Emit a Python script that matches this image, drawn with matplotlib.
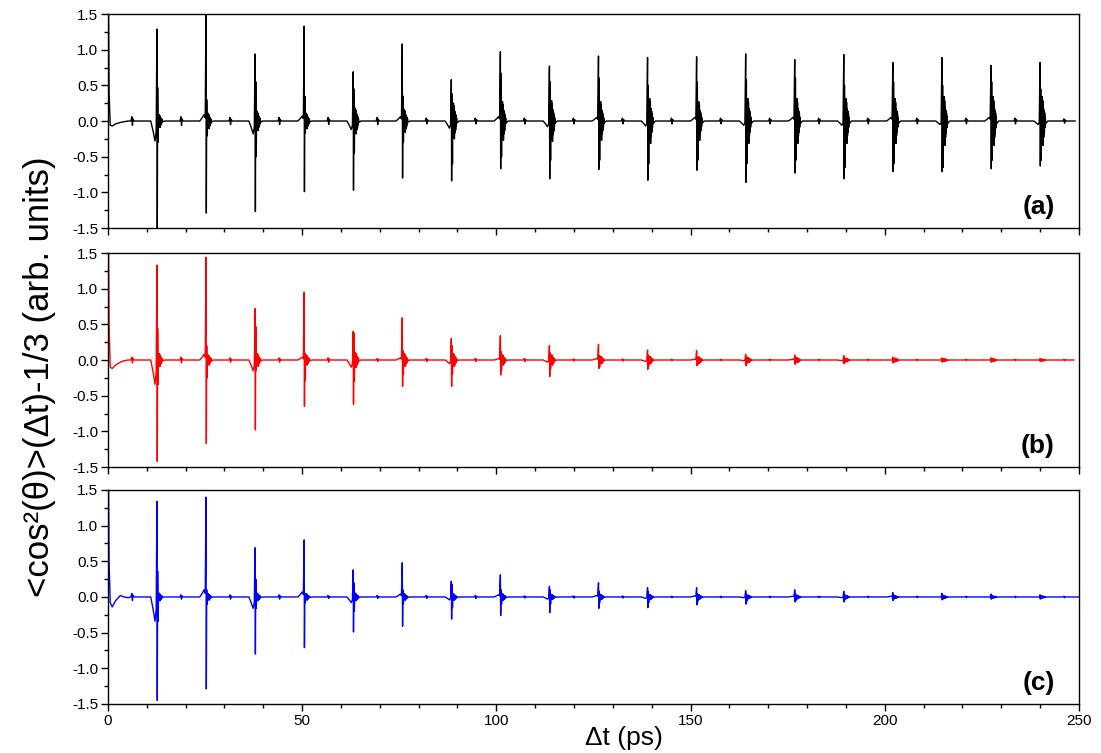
import numpy as np
import matplotlib.pyplot as plt
from matplotlib.ticker import MultipleLocator, FormatStrFormatter

plt.rcParams['font.family'] = ['Liberation Sans', 'DejaVu Sans']
plt.rcParams['axes.unicode_minus'] = False

T_REV = 12.63          # revival spacing (ps)
N_REV = 19

# start of trace (t = 0 .. 5 ps)
t_start = [0.15, 0.3, 0.6, 1.1, 2.0, 3.2, 4.2, 5.2]
a_start = [1.7, 0.4, -0.06, -0.07, -0.04, -0.02, -0.01, 0.0]
b_start = [1.7, 0.5, -0.10, -0.12, -0.07, -0.03, -0.01, 0.0]
c_start = [1.7, 0.5, -0.08, -0.14, -0.05, 0.02, 0.0, -0.01]

# revival features, one value per revival n = 1..19
a_max = [1.29, 1.60, 0.94, 1.33, 0.69, 1.08, 0.58, 0.97, 0.77, 0.91,
         0.89, 0.90, 0.94, 0.86, 0.93, 0.82, 0.89, 0.78, 0.82]
a_min = [-1.60, -1.29, -1.27, -0.99, -0.97, -0.80, -0.84, -0.67, -0.81, -0.68,
         -0.83, -0.69, -0.86, -0.73, -0.81, -0.71, -0.71, -0.67, -0.63]
a_sec = [0.47, 0.30, 0.55, 0.35, 0.45, 0.35, 0.38, 0.67, 0.55, 0.60,
         0.50, 0.55, 0.58, 0.60, 0.50, 0.55, 0.50, 0.55, 0.45]
a_smin = [-0.30, -0.21, -0.50, -0.17, -0.45, -0.30, -0.60, -0.50, -0.55, -0.55,
          -0.60, -0.55, -0.60, -0.55, -0.65, -0.60, -0.65, -0.55, -0.55]
a_pre = [-0.28, 0.09, -0.18, 0.07, -0.12, 0.06, -0.10, 0.06, -0.08, 0.05,
         -0.07, 0.05, -0.06, 0.05, -0.06, 0.05, -0.05, 0.05, -0.05]
a_ring = [0.10, 0.12, 0.15, 0.12, 0.20, 0.18, 0.28, 0.30, 0.32, 0.30,
          0.35, 0.30, 0.35, 0.35, 0.35, 0.35, 0.38, 0.38, 0.38]
a_half = [0.06, 0.06, 0.05, 0.05, 0.05, 0.05, 0.04, 0.04, 0.04, 0.04,
          0.04, 0.04, 0.04, 0.04, 0.04, 0.04, 0.04, 0.04, 0.04, 0.03]

b_max = [1.33, 1.44, 0.72, 0.95, 0.40, 0.59, 0.30, 0.34, 0.20, 0.22,
         0.14, 0.13, 0.08, 0.07, 0.06, 0.04, 0.03, 0.03, 0.02]
b_min = [-1.42, -1.17, -0.98, -0.65, -0.62, -0.37, -0.37, -0.21, -0.23, -0.12,
         -0.13, -0.08, -0.08, -0.06, -0.05, -0.04, -0.03, -0.03, -0.02]
b_sec = [0.44, 0.20, 0.47, 0.10, 0.38, 0.13, 0.20, 0.12, 0.10, 0.06,
         0.07, 0.04, 0.04, 0.03, 0.03, 0.02, 0.02, 0.015, 0.01]
b_smin = [-0.34, -0.25, -0.15, -0.29, -0.30, -0.20, -0.20, -0.15, -0.12, -0.10,
          -0.08, -0.06, -0.05, -0.04, -0.03, -0.03, -0.02, -0.02, -0.01]
b_pre = [-0.34, 0.08, -0.15, 0.04, -0.10, 0.03, -0.05, 0.02, -0.03, 0.02,
         -0.02, 0.01, -0.01, 0.01, -0.01, 0.0, 0.0, 0.0, 0.0]
b_ring = [0.10, 0.08, 0.10, 0.08, 0.12, 0.10, 0.10, 0.08, 0.08, 0.06,
          0.06, 0.05, 0.04, 0.04, 0.03, 0.03, 0.02, 0.02, 0.015]
b_half = [0.04, 0.04, 0.03, 0.03, 0.03, 0.02, 0.02, 0.02, 0.02, 0.015,
          0.015, 0.01, 0.01, 0.01, 0.01, 0.01, 0.01, 0.01, 0.01, 0.01]

c_max = [1.34, 1.40, 0.69, 0.80, 0.38, 0.48, 0.22, 0.31, 0.15, 0.20,
         0.13, 0.13, 0.09, 0.10, 0.08, 0.06, 0.05, 0.04, 0.03]
c_min = [-1.45, -1.29, -0.80, -0.71, -0.49, -0.41, -0.31, -0.26, -0.22, -0.16,
         -0.15, -0.11, -0.10, -0.07, -0.07, -0.05, -0.04, -0.03, -0.03]
c_sec = [0.36, 0.10, 0.25, 0.05, 0.20, 0.10, 0.18, 0.10, 0.10, 0.08,
         0.08, 0.05, 0.05, 0.05, 0.04, 0.03, 0.03, 0.02, 0.02]
c_smin = [-0.34, -0.10, -0.16, -0.08, -0.20, -0.10, -0.15, -0.10, -0.10, -0.08,
          -0.08, -0.06, -0.06, -0.05, -0.04, -0.03, -0.03, -0.02, -0.02]
c_pre = [-0.34, 0.10, -0.16, 0.07, -0.08, 0.04, -0.04, 0.03, -0.03, 0.02,
         -0.02, 0.015, -0.01, 0.01, -0.01, 0.01, 0.0, 0.0, 0.0]
c_ring = [0.06, 0.05, 0.06, 0.05, 0.06, 0.05, 0.05, 0.05, 0.04, 0.04,
          0.04, 0.035, 0.03, 0.03, 0.025, 0.02, 0.02, 0.015, 0.015]
c_half = [0.05, 0.03, 0.03, 0.03, 0.02, 0.02, 0.02, 0.02, 0.015, 0.015,
          0.015, 0.01, 0.01, 0.01, 0.01, 0.01, 0.01, 0.01, 0.01, 0.01]

t_end = [249.0, 248.7, 250.0]

# relative shape of the ringing tail after each revival
RING = [0.6, -0.8, 0.9, -0.7, 0.75, -0.9, 0.5, -0.6, 0.4, -0.45,
        0.3, -0.25, 0.15, -0.1]


def build_trace(start, vmax, vmin, vsec, vsmin, vpre, ring, half, tend):
    """Joins the read-off features into one time trace"""
    ts = list(t_start)
    ys = list(start)
    for n in range(N_REV + 1):
        # small feature half way between revivals
        th = (n + 0.5) * T_REV
        if th > tend - 0.5:
            break
        h = half[n]
        ts += [th - 0.4, th - 0.15, th, th + 0.15, th + 0.4]
        ys += [0.0, h, -h, 0.5 * h, 0.0]
        if n == N_REV:
            break
        tc = (n + 1) * T_REV
        i = n
        ts += [tc - 1.6, tc - 1.0, tc - 0.5, tc - 0.2, tc, tc + 0.08,
               tc + 0.18, tc + 0.3]
        ys += [0.0, 0.5 * vpre[i], vpre[i], 0.5 * vpre[i], vmax[i], vmin[i],
               vsec[i], vsmin[i]]
        for k, r in enumerate(RING):
            ts.append(tc + 0.4 + 0.08 * k)
            ys.append(ring[i] * r)
        ts.append(tc + 2.0)
        ys.append(0.0)
    ts.append(tend)
    ys.append(0.0)
    return np.array(ts), np.array(ys)


panels = [
    (a_start, a_max, a_min, a_sec, a_smin, a_pre, a_ring, a_half, 'black', '(a)'),
    (b_start, b_max, b_min, b_sec, b_smin, b_pre, b_ring, b_half, 'red', '(b)'),
    (c_start, c_max, c_min, c_sec, c_smin, c_pre, c_ring, c_half, 'blue', '(c)'),
]

fig = plt.figure(figsize=(11.01, 7.53), dpi=100)
left, width = 0.098, 0.882
bottoms = [0.6972, 0.3798, 0.0651]
height = 0.2842

for j, p in enumerate(panels):
    start, vmax, vmin, vsec, vsmin, vpre, ring, half, color, label = p
    ax = fig.add_axes([left, bottoms[j], width, height])
    t, y = build_trace(start, vmax, vmin, vsec, vsmin, vpre, ring, half, t_end[j])
    ax.plot(t, y, color=color, lw=1.0)
    ax.set_xlim(0, 250)
    ax.set_ylim(-1.5, 1.5)
    ax.xaxis.set_major_locator(MultipleLocator(50))
    ax.xaxis.set_minor_locator(MultipleLocator(10))
    ax.yaxis.set_major_locator(MultipleLocator(0.5))
    ax.yaxis.set_minor_locator(MultipleLocator(0.25))
    ax.yaxis.set_major_formatter(FormatStrFormatter('%.1f'))
    ax.tick_params(which='major', direction='out', length=5, width=1,
                   labelsize=11, pad=2)
    ax.tick_params(which='minor', direction='out', length=3, width=1)
    if j < 2:
        ax.tick_params(axis='x', labelbottom=False)
    for s in ax.spines.values():
        s.set_linewidth(1.0)
    ax.text(0.975, 0.04, label, transform=ax.transAxes, ha='right',
            va='bottom', fontsize=19, fontweight='bold')

fig.text(0.567, 0.02, 'Δt (ps)', ha='center', va='center', fontsize=19)
fig.text(0.036, 0.5, '<cos²(θ)>(Δt)-1/3 (arb. units)',
         rotation=90, ha='center', va='center', fontsize=25)

fig.savefig('out.png', dpi=100)
